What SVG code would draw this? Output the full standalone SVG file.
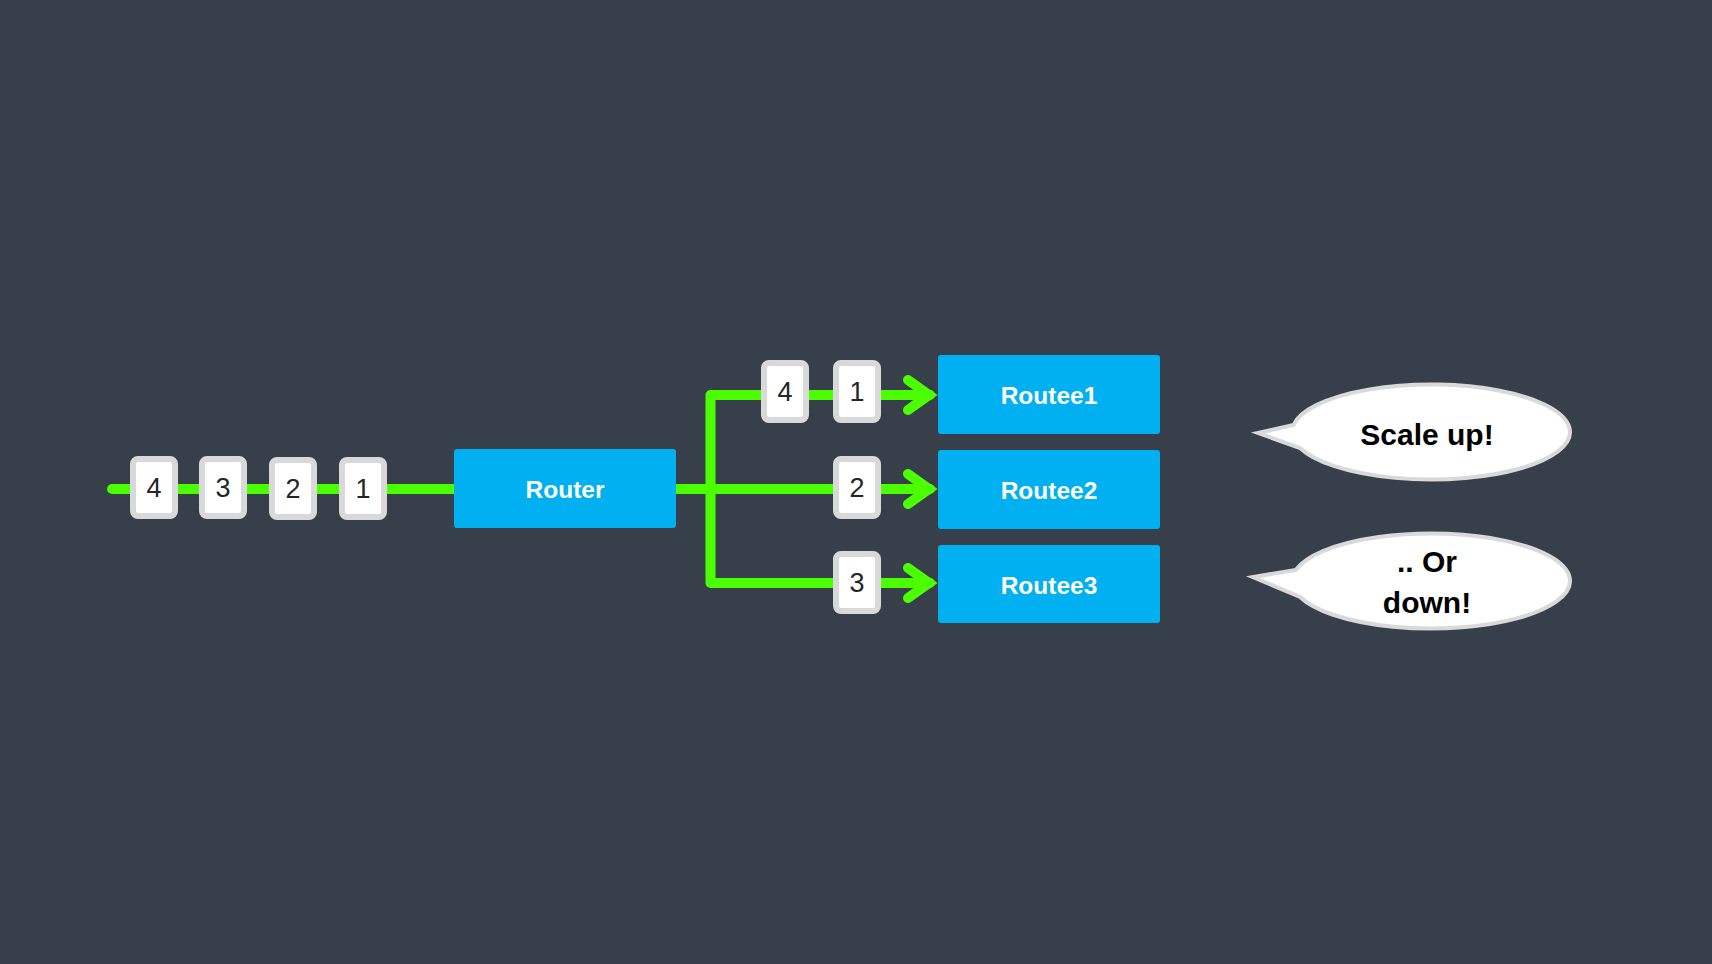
<svg xmlns="http://www.w3.org/2000/svg" width="1712" height="964" viewBox="0 0 1712 964">
<style>
.line{fill:none;stroke:#4cff00;stroke-width:10;stroke-linecap:round;stroke-linejoin:round}
.head{fill:none;stroke:#4cff00;stroke-width:10;stroke-linecap:round;stroke-linejoin:miter}
.msg rect{fill:#ffffff;stroke:#d9d9d9;stroke-width:6}
.msg text{font-family:"Liberation Sans",Arial,sans-serif;font-size:27px;fill:#262626;text-anchor:middle}
.actor rect{fill:#00b0f0}
.actor text{font-family:"Liberation Sans",Arial,sans-serif;font-weight:bold;font-size:24.5px;fill:#ffffff;text-anchor:middle}
.bubble path{fill:#ffffff;stroke:#d9d9d9;stroke-width:4;stroke-linejoin:miter}
.bubble text{font-family:"Liberation Sans",Arial,sans-serif;font-weight:bold;font-size:30px;fill:#000000;text-anchor:middle}
</style>
<rect width="1712" height="964" fill="#373f4a"/>
<g id="connectors">
<path class="line" d="M112,489 H454"/>
<path class="line" d="M676,489 H930"/>
<path class="line" d="M930,395 H710.5 V583 H930"/>
<path class="head" d="M908,380 L929,395 L908,410"/>
<path class="head" d="M908,474 L929,489 L908,504"/>
<path class="head" d="M908,568 L929,583 L908,598"/>
</g>
<g id="router" class="actor"><rect x="454" y="449" width="222" height="79" rx="3"/><text x="565" y="498">Router</text></g>
<g id="routee1" class="actor"><rect x="938" y="355" width="222" height="79" rx="3"/><text x="1049" y="404">Routee1</text></g>
<g id="routee2" class="actor"><rect x="938" y="450" width="222" height="79" rx="3"/><text x="1049" y="499">Routee2</text></g>
<g id="routee3" class="actor"><rect x="938" y="545" width="222" height="78" rx="3"/><text x="1049" y="594">Routee3</text></g>
<g id="msg-in-4" class="msg"><rect x="133" y="459" width="42" height="57" rx="5"/><text x="154" y="497">4</text></g>
<g id="msg-in-3" class="msg"><rect x="202" y="459" width="42" height="57" rx="5"/><text x="223" y="497">3</text></g>
<g id="msg-in-2" class="msg"><rect x="272" y="460" width="42" height="57" rx="5"/><text x="293" y="498">2</text></g>
<g id="msg-in-1" class="msg"><rect x="342" y="460" width="42" height="57" rx="5"/><text x="363" y="498">1</text></g>
<g id="msg-r1-4" class="msg"><rect x="764" y="363" width="42" height="57" rx="5"/><text x="785" y="401">4</text></g>
<g id="msg-r1-1" class="msg"><rect x="836" y="363" width="42" height="57" rx="5"/><text x="857" y="401">1</text></g>
<g id="msg-r2-2" class="msg"><rect x="836" y="459" width="42" height="57" rx="5"/><text x="857" y="497">2</text></g>
<g id="msg-r3-3" class="msg"><rect x="836" y="554" width="42" height="57" rx="5"/><text x="857" y="592">3</text></g>
<g id="bubble-up" class="bubble"><path d="M1293.5,425 A139,47.5 0 1 1 1300.1,448 L1258,433 Z"/><text x="1427" y="445">Scale up!</text></g>
<g id="bubble-down" class="bubble"><path d="M1295.8,570 A139,47.5 0 1 1 1300.1,597 L1253,577 Z"/><text x="1427" y="572">.. Or</text><text x="1427" y="613">down!</text></g>
</svg>
